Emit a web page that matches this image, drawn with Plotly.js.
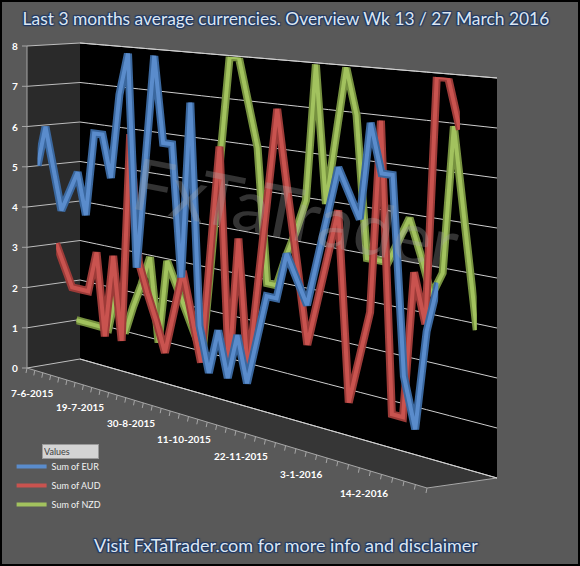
<!DOCTYPE html>
<html>
<head>
<meta charset="utf-8">
<script src="https://cdn.plot.ly/plotly-3.0.1.min.js"></script>
<style>
  html, body { margin: 0; padding: 0; background: #595959; }
  #chart { width: 580px; height: 566px; }
</style>
</head>
<body>
<div id="chart"></div>
<script>
// ---- Data ----
const categories = ['7-6-2015','14-6-2015','21-6-2015','28-6-2015','5-7-2015','12-7-2015','19-7-2015','26-7-2015','2-8-2015','9-8-2015','16-8-2015','23-8-2015','30-8-2015','6-9-2015','13-9-2015','20-9-2015','27-9-2015','4-10-2015','11-10-2015','18-10-2015','25-10-2015','1-11-2015','8-11-2015','15-11-2015','22-11-2015','29-11-2015','6-12-2015','13-12-2015','20-12-2015','27-12-2015','3-1-2016','10-1-2016','17-1-2016','24-1-2016','31-1-2016','7-2-2016','14-2-2016','21-2-2016','28-2-2016','6-3-2016','13-3-2016','20-3-2016','27-3-2016'];
const shownLabelIdx = [0, 6, 12, 18, 24, 30, 36];
const valueTicks = [0, 1, 2, 3, 4, 5, 6, 7, 8];
const seriesNames = ['Sum of EUR', 'Sum of AUD', 'Sum of NZD'];
const eur = [5,6,5,4,4.5,5,4,6,6,5,7,8,3,5.5,8,6,6,3,7,2,1,2,1,2,1,2,3,3,4,3.5,3,4,5,6,5.5,5,7,6,6,2,1,3,4];
const aud = [3,2.5,2,2,2,3,1,3,1,6,3,2.3,1.7,1,2,3,2,1,3.5,6,1,4,1,3,5,7,5.3,3.7,2,3,4,5,1,2,3,7,1,1,4,3,8,8,7];
const nzd = [1,1,1,1,1,2,1,1.7,2.3,3,1,3,2.5,2,1.5,1,3.3,5.7,8,8,7,6,3,3,3.7,4.3,5,8,5,6.5,8,7,4,4,4,4.5,5,4.3,3.5,4,7,5,3];

// ---- Styling ----
const seriesValues = [eur, aud, nzd];
const depthLeft = [0.20, 0.55, 0.93];
const depthRight = [0.16, 0.47, 0.71];
const outerColors = ['#3a679e', '#9c3b38', '#76913f'];
const innerColors = ['#5a8ccc', '#c9534f', '#a2c25e'];
const idx = categories.map((c, i) => i);
const nCat = categories.length - 1;
const vMax = valueTicks[valueTicks.length - 1];

// ---- 3-D look: projection of (category, value, depth) onto the page ----
const PERSP = 0.18;
function P(a, v, fl, fr) {
  const t = a / nCat;
  const u = (1 - PERSP) * t / (1 - PERSP * t);
  const f = fl + ((fr === undefined ? fl : fr) - fl) * u;
  const xL = 27 + 53 * f, xR = 427 + 70 * f;
  const y0L = 368 - 9 * f, y0R = 488 - 10 * f;
  const y8L = 46 - 3 * f, y8R = 80 - 2 * f;
  const X = xL + (xR - xL) * u;
  const Y0 = y0L + (y0R - y0L) * u;
  const Y8 = y8L + (y8R - y8L) * u;
  return [X, Y0 + (Y8 - Y0) * v / vMax];
}

const hiddenCarpetAxis = {
  showgrid: false, showline: false, showticklabels: 'none',
  startline: false, endline: false, smoothing: 0, minorgridcount: 0,
  title: { text: '' }
};
function makeCarpet(id, fl, fr, baxis) {
  return {
    type: 'carpet', carpet: id,
    a: idx, b: valueTicks,
    x: valueTicks.map(v => idx.map(a => P(a, v, fl, fr)[0])),
    y: valueTicks.map(v => idx.map(a => P(a, v, fl, fr)[1])),
    aaxis: hiddenCarpetAxis,
    baxis: baxis || hiddenCarpetAxis,
    hoverinfo: 'skip'
  };
}

const data = [];
// back wall with value gridlines
data.push(makeCarpet('wall', 1, 1, {
  showgrid: true, gridcolor: '#cfcfcf', gridwidth: 1,
  tickmode: 'linear', tick0: 0, dtick: 1,
  showline: false, showticklabels: 'none',
  startline: true, endline: true, startlinecolor: '#cfcfcf', endlinecolor: '#cfcfcf',
  startlinewidth: 1, endlinewidth: 1,
  smoothing: 0, minorgridcount: 0, title: { text: '' }
}));
// series: drawn back to front (NZD, AUD, EUR)
[2, 1, 0].forEach(s => {
  const cid = 'c' + s;
  data.push(makeCarpet(cid, depthLeft[s], depthRight[s]));
  data.push({
    type: 'scattercarpet', carpet: cid, a: idx, b: seriesValues[s], mode: 'lines',
    line: { color: outerColors[s], width: 8 }, showlegend: false,
    legendgroup: seriesNames[s], hoverinfo: 'skip'
  });
  data.push({
    type: 'scattercarpet', carpet: cid, a: idx, b: seriesValues[s], mode: 'lines',
    name: seriesNames[s], line: { color: innerColors[s], width: 4 },
    legendgroup: seriesNames[s], hoverinfo: 'skip'
  });
});

// ---- walls, edges, ticks ----
function poly(pts) {
  return 'M' + pts.map(p => p[0].toFixed(1) + ',' + p[1].toFixed(1)).join(' L') + ' Z';
}
function segs(list) {
  return list.map(([p, q]) => 'M' + p[0].toFixed(1) + ',' + p[1].toFixed(1) + ' L' + q[0].toFixed(1) + ',' + q[1].toFixed(1)).join(' ');
}
const shapes = [
  { type: 'path', layer: 'below', xref: 'x', yref: 'y', line: { width: 0 }, fillcolor: '#2a2a2a',
    path: poly([P(0, 0, 0), P(0, vMax, 0), P(0, vMax, 1), P(0, 0, 1)]) },
  { type: 'path', layer: 'below', xref: 'x', yref: 'y', line: { width: 0 }, fillcolor: '#000000',
    path: poly([P(0, 0, 1), P(0, vMax, 1), P(nCat, vMax, 1), P(nCat, 0, 1)]) },
  { type: 'path', layer: 'below', xref: 'x', yref: 'y', line: { width: 0 }, fillcolor: '#363636',
    path: poly([P(0, 0, 0), P(nCat, 0, 0), P(nCat, 0, 1), P(0, 0, 1)]) },
  // left wall gridlines
  { type: 'path', layer: 'below', xref: 'x', yref: 'y', line: { color: '#bdbdbd', width: 1 },
    path: segs(valueTicks.map(v => [P(0, v, 0), P(0, v, 1)])) },
  // left value-axis ticks and edge
  { type: 'path', layer: 'below', xref: 'x', yref: 'y', line: { color: '#a6a6a6', width: 1 },
    path: segs(valueTicks.map(v => { const p = P(0, v, 0); return [[p[0] - 5, p[1]], p]; })) + ' ' +
          segs([[P(0, 0, 0), P(0, vMax, 0)]]) },
  // category axis edge and ticks
  { type: 'path', layer: 'below', xref: 'x', yref: 'y', line: { color: '#a6a6a6', width: 1 },
    path: segs([[P(0, 0, 0), P(nCat, 0, 0)], [P(nCat, 0, 0), P(nCat, 0, 1)]]) + ' ' +
          segs(idx.map(a => { const p = P(a, 0, 0); return [p, [p[0] - 1, p[1] + 5]]; })) },
  // outer border
  { type: 'rect', xref: 'paper', yref: 'paper', x0: 0, x1: 1, y0: 0, y1: 1,
    line: { color: '#000000', width: 4 }, fillcolor: 'rgba(0,0,0,0)' }
];

// ---- texts ----
const tickFont = { family: 'Lato, "DejaVu Sans", sans-serif', size: 10, color: '#ffffff', weight: 'bold' };
const headFont = {
  family: 'Lato, "Open Sans", sans-serif', size: 17.4, color: '#dce6f2',
  shadow: '1px 1px 1px #1f3864, -1px -1px 1px #1f3864, 1px -1px 1px #1f3864, -1px 1px 1px #1f3864'
};
const annotations = [];
valueTicks.forEach(v => {
  const p = P(0, v, 0);
  annotations.push({ xref: 'x', yref: 'y', x: p[0] - 7, y: p[1], text: String(v), showarrow: false,
    xanchor: 'right', yanchor: 'middle', font: tickFont });
});
shownLabelIdx.forEach(k => {
  const p = P(k, 0, 0);
  annotations.push({ xref: 'x', yref: 'y', x: p[0] + 5, y: p[1] + 25, text: categories[k], showarrow: false,
    xanchor: 'center', yanchor: 'middle', font: tickFont });
});
annotations.push(
  { text: 'FxTaTrader', xref: 'paper', yref: 'paper', x: 0.51, y: 0.625, showarrow: false, textangle: 11,
    font: { family: 'Lato, sans-serif', size: 72, color: 'rgba(170,170,170,0.30)' } },
  { text: 'Values', xref: 'paper', yref: 'paper', x: 0.072, y: 0.203, xanchor: 'left', yanchor: 'middle',
    align: 'left', width: 53, height: 11, showarrow: false, bgcolor: '#d4d4d4', bordercolor: '#9a9a9a',
    borderwidth: 1, borderpad: 1,
    font: { family: 'Lato, "DejaVu Sans", sans-serif', size: 9, color: '#404040' } },
  { text: 'Visit FxTaTrader.com for more info and disclaimer', xref: 'paper', yref: 'paper',
    x: 0.493, y: 0.037, xanchor: 'center', yanchor: 'middle', showarrow: false,
    font: Object.assign({}, headFont, { size: 18 }) }
);

const layout = {
  width: 580, height: 566,
  paper_bgcolor: '#595959', plot_bgcolor: '#595959',
  margin: { l: 0, r: 0, t: 0, b: 0 },
  title: {
    text: 'Last 3 months average currencies. Overview Wk 13 / 27 March 2016',
    x: 0.493, xanchor: 'center', y: 0.966, yanchor: 'middle', yref: 'container', font: headFont
  },
  xaxis: { range: [0, 580], visible: false, fixedrange: true },
  yaxis: { range: [566, 0], visible: false, fixedrange: true },
  showlegend: true,
  legend: {
    x: 0.02, y: 0.2015, xanchor: 'left', yanchor: 'top', traceorder: 'reversed',
    bgcolor: 'rgba(0,0,0,0)', itemwidth: 30, tracegroupgap: 0,
    font: { family: 'Lato, "DejaVu Sans", sans-serif', size: 9, color: '#f2f2f2' }
  },
  shapes: shapes,
  annotations: annotations
};

Plotly.newPlot('chart', data, layout, { displayModeBar: false, staticPlot: true });
</script>
</body>
</html>
